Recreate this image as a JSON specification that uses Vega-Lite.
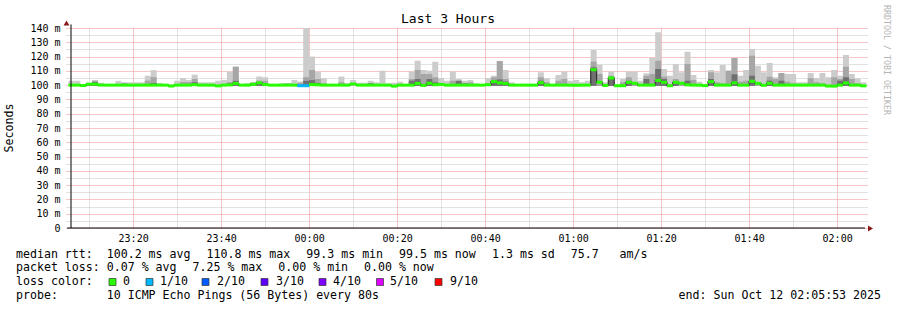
{
"$schema": "https://vega.github.io/schema/vega-lite/v6.json",
"width": 802, "height": 200,
"autosize": {"type": "none"},
"padding": {"left": 66, "top": 28, "right": 29, "bottom": 82},
"background": "white",
"config": {"view": {"stroke": null}, "font": "DejaVu Sans Mono", "text": {"font": "DejaVu Sans Mono", "fontSize": 11.6, "color": "#000", "align": "left", "baseline": "middle"}},
"data": {"values": [
{"t":"2025-10-11T23:06:00","hi":103.1,"med":100,"loss":0},
{"t":"2025-10-11T23:07:20","hi":103.1,"med":100,"loss":0},
{"t":"2025-10-11T23:08:40","hi":100.6,"med":99.7,"loss":0},
{"t":"2025-10-11T23:10:00","hi":101.6,"dk":101.2,"med":100.7,"loss":0},
{"t":"2025-10-11T23:11:20","hi":103.3,"mid":103.2,"dk":102.2,"med":100.7,"loss":0},
{"t":"2025-10-11T23:12:40","hi":101.6,"med":100.1,"loss":0},
{"t":"2025-10-11T23:14:00","hi":100.5,"med":100,"loss":0},
{"t":"2025-10-11T23:15:20","hi":100.5,"med":100,"loss":0},
{"t":"2025-10-11T23:16:40","hi":103.0,"med":100,"loss":0},
{"t":"2025-10-11T23:18:00","hi":102.0,"mid":101.5,"med":100,"loss":0},
{"t":"2025-10-11T23:19:20","hi":102.0,"med":100,"loss":0},
{"t":"2025-10-11T23:20:40","hi":102.0,"med":100,"loss":0},
{"t":"2025-10-11T23:22:00","hi":102.0,"med":100,"loss":0},
{"t":"2025-10-11T23:23:20","hi":106.6,"mid":103.2,"med":100,"loss":0},
{"t":"2025-10-11T23:24:40","hi":110.5,"mid":105.6,"dk":101.5,"med":100,"loss":0},
{"t":"2025-10-11T23:26:00","hi":101.5,"med":100,"loss":0},
{"t":"2025-10-11T23:27:20","hi":100.8,"med":100,"loss":0},
{"t":"2025-10-11T23:28:40","hi":100.5,"med":99.4,"loss":0},
{"t":"2025-10-11T23:30:00","hi":103.1,"med":100,"loss":0},
{"t":"2025-10-11T23:31:20","hi":105.0,"mid":102.2,"med":100,"loss":0},
{"t":"2025-10-11T23:32:40","hi":103.6,"mid":102.2,"med":100,"loss":0},
{"t":"2025-10-11T23:34:00","hi":107.3,"mid":104.3,"dk":102,"med":100.3,"loss":0},
{"t":"2025-10-11T23:35:20","hi":102,"med":100,"loss":0},
{"t":"2025-10-11T23:36:40","hi":102,"med":100,"loss":0},
{"t":"2025-10-11T23:38:00","hi":102,"med":100,"loss":0},
{"t":"2025-10-11T23:39:20","hi":103.1,"med":99.5,"loss":0},
{"t":"2025-10-11T23:40:40","hi":103.6,"med":100,"loss":0},
{"t":"2025-10-11T23:42:00","hi":109.4,"mid":102,"dk":101.3,"med":100.2,"loss":0},
{"t":"2025-10-11T23:43:20","hi":112.9,"mid":112.9,"dk":103,"med":101.2,"loss":0},
{"t":"2025-10-11T23:44:40","hi":100.8,"med":100,"loss":0},
{"t":"2025-10-11T23:46:00","hi":101.3,"med":100,"loss":0},
{"t":"2025-10-11T23:47:20","hi":102,"dk":101.6,"med":100.6,"loss":0},
{"t":"2025-10-11T23:48:40","hi":106,"mid":103.2,"dk":102,"med":101.6,"loss":0},
{"t":"2025-10-11T23:50:00","hi":105.5,"mid":103,"dk":101.5,"med":100.4,"loss":0},
{"t":"2025-10-11T23:51:20","hi":100.8,"med":100,"loss":0},
{"t":"2025-10-11T23:52:40","hi":100.8,"med":100,"loss":0},
{"t":"2025-10-11T23:54:00","hi":100.8,"dk":101,"med":100,"loss":0},
{"t":"2025-10-11T23:55:20","hi":101.3,"mid":101.3,"med":100,"loss":0},
{"t":"2025-10-11T23:56:40","hi":103.6,"med":100,"loss":0},
{"t":"2025-10-11T23:58:00","hi":102.5,"mid":101.7,"med":99.6,"loss":1},
{"t":"2025-10-11T23:59:20","hi":140,"mid":105.6,"dk":103,"med":99.6,"loss":1},
{"t":"2025-10-12T00:00:40","hi":120,"mid":110.6,"dk":103.5,"med":100.4,"loss":0},
{"t":"2025-10-12T00:02:00","hi":109.4,"mid":104.3,"dk":101.5,"med":100.2,"loss":0},
{"t":"2025-10-12T00:03:20","hi":104.8,"mid":101.3,"med":100,"loss":0},
{"t":"2025-10-12T00:04:40","hi":100.3,"med":100,"loss":0},
{"t":"2025-10-12T00:06:00","hi":100.8,"med":100,"loss":0},
{"t":"2025-10-12T00:07:20","hi":106,"mid":102,"med":100,"loss":0},
{"t":"2025-10-12T00:08:40","hi":101.3,"med":100,"loss":0},
{"t":"2025-10-12T00:10:00","hi":103.6,"med":100.8,"loss":0},
{"t":"2025-10-12T00:11:20","hi":101.7,"med":100,"loss":0},
{"t":"2025-10-12T00:12:40","hi":101.7,"med":100,"loss":0},
{"t":"2025-10-12T00:14:00","hi":103.1,"dk":101.3,"med":100,"loss":0},
{"t":"2025-10-12T00:15:20","hi":102,"med":100,"loss":0},
{"t":"2025-10-12T00:16:40","hi":110.1,"med":100,"loss":0},
{"t":"2025-10-12T00:18:00","hi":101.3,"med":100,"loss":0},
{"t":"2025-10-12T00:19:20","hi":101.7,"med":99.3,"loss":0},
{"t":"2025-10-12T00:20:40","hi":102.4,"med":100,"loss":0},
{"t":"2025-10-12T00:22:00","hi":100.8,"med":100,"loss":0},
{"t":"2025-10-12T00:23:20","hi":109.4,"mid":104.3,"dk":103.1,"med":100,"loss":0},
{"t":"2025-10-12T00:24:40","hi":117.1,"mid":110.6,"dk":104.3,"med":101.2,"loss":0},
{"t":"2025-10-12T00:26:00","hi":110.6,"mid":107.8,"med":99.8,"loss":0},
{"t":"2025-10-12T00:27:20","hi":110.1,"mid":107.8,"dk":104.3,"med":101.3,"loss":0},
{"t":"2025-10-12T00:28:40","hi":116.4,"mid":105.5,"dk":102,"med":100.3,"loss":0},
{"t":"2025-10-12T00:30:00","hi":105,"med":100.5,"loss":0},
{"t":"2025-10-12T00:31:20","hi":103.1,"med":100,"loss":0},
{"t":"2025-10-12T00:32:40","hi":109.4,"mid":103.1,"med":100,"loss":0},
{"t":"2025-10-12T00:34:00","hi":104.3,"dk":103.1,"med":100,"loss":0},
{"t":"2025-10-12T00:35:20","hi":103.1,"dk":101.3,"med":100,"loss":0},
{"t":"2025-10-12T00:36:40","hi":103.6,"mid":102,"med":100,"loss":0},
{"t":"2025-10-12T00:38:00","hi":101.3,"med":100,"loss":0},
{"t":"2025-10-12T00:39:20","hi":100.2,"med":100,"loss":0},
{"t":"2025-10-12T00:40:40","hi":105,"mid":101.3,"med":100.3,"loss":0},
{"t":"2025-10-12T00:42:00","hi":106.6,"mid":105.5,"dk":103.3,"med":102.5,"loss":0},
{"t":"2025-10-12T00:43:20","hi":116.9,"mid":116.9,"dk":104,"med":101.6,"loss":0},
{"t":"2025-10-12T00:44:40","hi":110.6,"mid":104.3,"dk":102.5,"med":101.1,"loss":0},
{"t":"2025-10-12T00:46:00","hi":102,"med":100,"loss":0},
{"t":"2025-10-12T00:47:20","hi":100.8,"dk":100.8,"med":100,"loss":0},
{"t":"2025-10-12T00:48:40","hi":100.8,"med":100,"loss":0},
{"t":"2025-10-12T00:50:00","hi":100.2,"med":100,"loss":0},
{"t":"2025-10-12T00:51:20","hi":100.2,"med":100,"loss":0},
{"t":"2025-10-12T00:52:40","hi":109,"mid":105.5,"dk":103.1,"med":101.7,"loss":0},
{"t":"2025-10-12T00:54:00","hi":104.8,"mid":102,"med":100,"loss":0},
{"t":"2025-10-12T00:55:20","hi":100.2,"med":100,"loss":0},
{"t":"2025-10-12T00:56:40","hi":107.1,"mid":103.1,"med":100,"loss":0},
{"t":"2025-10-12T00:58:00","hi":109.4,"mid":104.3,"med":100,"loss":0},
{"t":"2025-10-12T00:59:20","hi":103.1,"med":100,"loss":0},
{"t":"2025-10-12T01:00:40","hi":103.6,"med":100,"loss":0},
{"t":"2025-10-12T01:02:00","hi":102,"med":100,"loss":0},
{"t":"2025-10-12T01:03:20","hi":103.1,"med":100,"loss":0},
{"t":"2025-10-12T01:04:40","hi":124.6,"mid":116.4,"dk":112.5,"med":110.8,"loss":0},
{"t":"2025-10-12T01:06:00","hi":114.3,"mid":107.8,"med":102,"loss":0},
{"t":"2025-10-12T01:07:20","hi":102,"med":99.8,"loss":0},
{"t":"2025-10-12T01:08:40","hi":109.4,"mid":106.6,"dk":105.5,"med":105,"loss":0},
{"t":"2025-10-12T01:10:00","hi":100.8,"med":99.6,"loss":0},
{"t":"2025-10-12T01:11:20","hi":104.3,"mid":102,"med":99.6,"loss":0},
{"t":"2025-10-12T01:12:40","hi":109.4,"mid":105.5,"dk":103,"med":102,"loss":0},
{"t":"2025-10-12T01:14:00","hi":109.4,"mid":102,"med":101.3,"loss":0},
{"t":"2025-10-12T01:15:20","hi":103.1,"med":100,"loss":0},
{"t":"2025-10-12T01:16:40","hi":108.3,"mid":106.6,"dk":104.3,"med":100,"loss":0},
{"t":"2025-10-12T01:18:00","hi":119,"mid":107.8,"med":100,"loss":0},
{"t":"2025-10-12T01:19:20","hi":137,"mid":117.1,"dk":111.3,"med":103.3,"loss":0},
{"t":"2025-10-12T01:20:40","hi":111.3,"mid":105.9,"dk":104.3,"med":102,"loss":0},
{"t":"2025-10-12T01:22:00","hi":106.6,"med":99.6,"loss":0},
{"t":"2025-10-12T01:23:20","hi":114.8,"mid":104.3,"dk":102.4,"med":102,"loss":0},
{"t":"2025-10-12T01:24:40","hi":109,"mid":102,"med":101.3,"loss":0},
{"t":"2025-10-12T01:26:00","hi":123.4,"mid":114.8,"dk":103.1,"med":100.2,"loss":0},
{"t":"2025-10-12T01:27:20","hi":107.1,"mid":103.6,"med":100,"loss":0},
{"t":"2025-10-12T01:28:40","hi":102.4,"med":100,"loss":0},
{"t":"2025-10-12T01:30:00","hi":100.2,"med":99.7,"loss":0},
{"t":"2025-10-12T01:31:20","hi":110.6,"mid":109,"dk":104.3,"med":102.4,"loss":0},
{"t":"2025-10-12T01:32:40","hi":109,"mid":102,"med":100,"loss":0},
{"t":"2025-10-12T01:34:00","hi":114.1,"mid":101.3,"med":100,"loss":0},
{"t":"2025-10-12T01:35:20","hi":110.1,"mid":110.1,"med":100,"loss":0},
{"t":"2025-10-12T01:36:40","hi":119,"mid":119,"dk":107.6,"med":101.6,"loss":0},
{"t":"2025-10-12T01:38:00","hi":106.6,"mid":102.4,"med":100,"loss":0},
{"t":"2025-10-12T01:39:20","hi":110.6,"mid":103.1,"med":100,"loss":0},
{"t":"2025-10-12T01:40:40","hi":125.3,"mid":120.6,"dk":106.6,"med":102.7,"loss":0},
{"t":"2025-10-12T01:42:00","hi":113.6,"mid":102,"med":101.2,"loss":0},
{"t":"2025-10-12T01:43:20","hi":109,"med":99.9,"loss":0},
{"t":"2025-10-12T01:44:40","hi":115.5,"mid":105.9,"dk":103.1,"med":101.3,"loss":0},
{"t":"2025-10-12T01:46:00","hi":105.5,"mid":104.3,"med":100,"loss":0},
{"t":"2025-10-12T01:47:20","hi":108.5,"mid":108.5,"dk":103.1,"med":100,"loss":0},
{"t":"2025-10-12T01:48:40","hi":107.8,"mid":102.4,"med":100,"loss":0},
{"t":"2025-10-12T01:50:00","hi":107.8,"mid":101.3,"med":100,"loss":0},
{"t":"2025-10-12T01:51:20","hi":102,"med":100,"loss":0},
{"t":"2025-10-12T01:52:40","hi":102,"med":100,"loss":0},
{"t":"2025-10-12T01:54:00","hi":108.5,"mid":104.8,"med":100,"loss":0},
{"t":"2025-10-12T01:55:20","hi":105,"mid":102,"med":100,"loss":0},
{"t":"2025-10-12T01:56:40","hi":108.5,"mid":101.3,"med":100,"loss":0},
{"t":"2025-10-12T01:58:00","hi":105.5,"med":99.4,"loss":0},
{"t":"2025-10-12T01:59:20","hi":110.6,"mid":105.5,"med":99.3,"loss":0},
{"t":"2025-10-12T02:00:40","hi":106.6,"mid":104.3,"dk":103.1,"med":100,"loss":0},
{"t":"2025-10-12T02:02:00","hi":121.1,"mid":112.9,"dk":105.5,"med":101.5,"loss":0},
{"t":"2025-10-12T02:03:20","hi":107.8,"mid":104.3,"med":100,"loss":0},
{"t":"2025-10-12T02:04:40","hi":104.8,"mid":101.3,"med":100,"loss":0},
{"t":"2025-10-12T02:06:00","hi":102,"med":99.5,"loss":0}
]},
"layer": [
{"mark": {"type": "bar", "width": 6, "color": "#cccccc", "clip": true},
 "encoding": {
  "x": {"field": "t", "type": "temporal",
   "scale": {"domain": [{"year":2025,"month":10,"date":11,"hours":23,"minutes":5,"seconds":53},{"year":2025,"month":10,"date":12,"hours":2,"minutes":5,"seconds":53}], "nice": false},
   "axis": {"title": null, "values": [
     {"year":2025,"month":10,"date":11,"hours":23,"minutes":10},{"year":2025,"month":10,"date":11,"hours":23,"minutes":15},
     {"year":2025,"month":10,"date":11,"hours":23,"minutes":20},{"year":2025,"month":10,"date":11,"hours":23,"minutes":25},
     {"year":2025,"month":10,"date":11,"hours":23,"minutes":30},{"year":2025,"month":10,"date":11,"hours":23,"minutes":35},
     {"year":2025,"month":10,"date":11,"hours":23,"minutes":40},{"year":2025,"month":10,"date":11,"hours":23,"minutes":45},
     {"year":2025,"month":10,"date":11,"hours":23,"minutes":50},{"year":2025,"month":10,"date":11,"hours":23,"minutes":55},
     {"year":2025,"month":10,"date":12,"hours":0,"minutes":0},{"year":2025,"month":10,"date":12,"hours":0,"minutes":5},
     {"year":2025,"month":10,"date":12,"hours":0,"minutes":10},{"year":2025,"month":10,"date":12,"hours":0,"minutes":15},
     {"year":2025,"month":10,"date":12,"hours":0,"minutes":20},{"year":2025,"month":10,"date":12,"hours":0,"minutes":25},
     {"year":2025,"month":10,"date":12,"hours":0,"minutes":30},{"year":2025,"month":10,"date":12,"hours":0,"minutes":35},
     {"year":2025,"month":10,"date":12,"hours":0,"minutes":40},{"year":2025,"month":10,"date":12,"hours":0,"minutes":45},
     {"year":2025,"month":10,"date":12,"hours":0,"minutes":50},{"year":2025,"month":10,"date":12,"hours":0,"minutes":55},
     {"year":2025,"month":10,"date":12,"hours":1,"minutes":0},{"year":2025,"month":10,"date":12,"hours":1,"minutes":5},
     {"year":2025,"month":10,"date":12,"hours":1,"minutes":10},{"year":2025,"month":10,"date":12,"hours":1,"minutes":15},
     {"year":2025,"month":10,"date":12,"hours":1,"minutes":20},{"year":2025,"month":10,"date":12,"hours":1,"minutes":25},
     {"year":2025,"month":10,"date":12,"hours":1,"minutes":30},{"year":2025,"month":10,"date":12,"hours":1,"minutes":35},
     {"year":2025,"month":10,"date":12,"hours":1,"minutes":40},{"year":2025,"month":10,"date":12,"hours":1,"minutes":45},
     {"year":2025,"month":10,"date":12,"hours":1,"minutes":50},{"year":2025,"month":10,"date":12,"hours":1,"minutes":55},
     {"year":2025,"month":10,"date":12,"hours":2,"minutes":0},{"year":2025,"month":10,"date":12,"hours":2,"minutes":5}],
    "labelExpr": "minutes(datum.value) % 20 === 0 ? timeFormat(datum.value, '%H:%M') : ''",
    "grid": true, "gridDash": [1, 1],
    "gridColor": {"condition": {"test": "minutes(datum.value) % 20 === 0", "value": "#f08c8c"}, "value": "#c4c4c4"},
    "domain": false, "ticks": false, "labelPadding": 5,
    "labelFont": "DejaVu Sans Mono", "labelFontSize": 10, "labelColor": "#000", "labelOverlap": false, "labelFlush": false, "labelBound": false}},
  "y": {"field": "hi", "type": "quantitative",
   "scale": {"domain": [0, 140], "nice": false, "zero": false},
   "axis": {"title": null, "values": [0,5,10,15,20,25,30,35,40,45,50,55,60,65,70,75,80,85,90,95,100,105,110,115,120,125,130,135,140], "labelExpr": "datum.value % 10 !== 0 ? '' : (datum.value === 0 ? '0' : datum.value + ' m')", "grid": true, "gridDash": [1, 1], "gridColor": {"condition": {"test": "datum.value % 10 === 0", "value": "#f08c8c"}, "value": "#c4c4c4"}, "domain": false, "ticks": false, "labelPadding": 6, "labelFont": "DejaVu Sans Mono", "labelFontSize": 10, "labelColor": "#000", "labelOverlap": false}},
  "y2": {"datum": 99.5}
 }},
{"mark": {"type": "bar", "width": 6, "color": "#a6a6a6", "clip": true},
 "encoding": {"x": {"field": "t", "type": "temporal"},
  "y": {"field": "mid", "type": "quantitative", "axis": {"title": null, "values": [0,5,10,15,20,25,30,35,40,45,50,55,60,65,70,75,80,85,90,95,100,105,110,115,120,125,130,135,140], "labelExpr": "datum.value % 10 !== 0 ? '' : (datum.value === 0 ? '0' : datum.value + ' m')", "grid": true, "gridDash": [1, 1], "gridColor": {"condition": {"test": "datum.value % 10 === 0", "value": "#f08c8c"}, "value": "#c4c4c4"}, "domain": false, "ticks": false, "labelPadding": 6, "labelFont": "DejaVu Sans Mono", "labelFontSize": 10, "labelColor": "#000", "labelOverlap": false}},
  "y2": {"datum": 99.5}}},
{"mark": {"type": "bar", "width": 6, "color": "#707070", "clip": true},
 "encoding": {"x": {"field": "t", "type": "temporal"},
  "y": {"field": "dk", "type": "quantitative", "axis": {"title": null, "values": [0,5,10,15,20,25,30,35,40,45,50,55,60,65,70,75,80,85,90,95,100,105,110,115,120,125,130,135,140], "labelExpr": "datum.value % 10 !== 0 ? '' : (datum.value === 0 ? '0' : datum.value + ' m')", "grid": true, "gridDash": [1, 1], "gridColor": {"condition": {"test": "datum.value % 10 === 0", "value": "#f08c8c"}, "value": "#c4c4c4"}, "domain": false, "ticks": false, "labelPadding": 6, "labelFont": "DejaVu Sans Mono", "labelFontSize": 10, "labelColor": "#000", "labelOverlap": false}},
  "y2": {"datum": 99.5}}},
{"mark": {"type": "line", "interpolate": "step", "color": "#333333", "strokeWidth": 1.2, "clip": true},
 "encoding": {"x": {"field": "t", "type": "temporal"},
  "y": {"field": "med", "type": "quantitative", "axis": {"title": null, "values": [0,5,10,15,20,25,30,35,40,45,50,55,60,65,70,75,80,85,90,95,100,105,110,115,120,125,130,135,140], "labelExpr": "datum.value % 10 !== 0 ? '' : (datum.value === 0 ? '0' : datum.value + ' m')", "grid": true, "gridDash": [1, 1], "gridColor": {"condition": {"test": "datum.value % 10 === 0", "value": "#f08c8c"}, "value": "#c4c4c4"}, "domain": false, "ticks": false, "labelPadding": 6, "labelFont": "DejaVu Sans Mono", "labelFontSize": 10, "labelColor": "#000", "labelOverlap": false}}}},
{"mark": {"type": "tick", "orient": "horizontal", "size": 6, "thickness": 3, "opacity": 1, "clip": true},
 "encoding": {"x": {"field": "t", "type": "temporal"},
  "y": {"field": "med", "type": "quantitative", "axis": {"title": null, "values": [0,5,10,15,20,25,30,35,40,45,50,55,60,65,70,75,80,85,90,95,100,105,110,115,120,125,130,135,140], "labelExpr": "datum.value % 10 !== 0 ? '' : (datum.value === 0 ? '0' : datum.value + ' m')", "grid": true, "gridDash": [1, 1], "gridColor": {"condition": {"test": "datum.value % 10 === 0", "value": "#f08c8c"}, "value": "#c4c4c4"}, "domain": false, "ticks": false, "labelPadding": 6, "labelFont": "DejaVu Sans Mono", "labelFontSize": 10, "labelColor": "#000", "labelOverlap": false}},
  "color": {"field": "loss", "type": "nominal", "legend": null,
   "scale": {"domain": [0,1,2,3,4,5,9], "range": ["#26ff00","#00b8ff","#0059ff","#5e00ff","#7e00ff","#dd00ff","#ff0000"]}}}},
{"data": {"values": [{}]},
 "layer": [
  {"mark": {"type": "rule", "color": "#000", "strokeWidth": 1},
   "encoding": {"x": {"datum": {"year":2025,"month":10,"date":11,"hours":23,"minutes":5,"seconds":53}, "type": "temporal"},
    "y": {"datum": 0, "type": "quantitative", "axis": {"title": null, "values": [0,5,10,15,20,25,30,35,40,45,50,55,60,65,70,75,80,85,90,95,100,105,110,115,120,125,130,135,140], "labelExpr": "datum.value % 10 !== 0 ? '' : (datum.value === 0 ? '0' : datum.value + ' m')", "grid": true, "gridDash": [1, 1], "gridColor": {"condition": {"test": "datum.value % 10 === 0", "value": "#f08c8c"}, "value": "#c4c4c4"}, "domain": false, "ticks": false, "labelPadding": 6, "labelFont": "DejaVu Sans Mono", "labelFontSize": 10, "labelColor": "#000", "labelOverlap": false}},
    "y2": {"datum": 142.5}}},
  {"mark": {"type": "rule", "color": "#000", "strokeWidth": 1},
   "encoding": {"x": {"datum": {"year":2025,"month":10,"date":11,"hours":23,"minutes":5,"seconds":0}, "type": "temporal"},
    "x2": {"datum": {"year":2025,"month":10,"date":12,"hours":2,"minutes":6,"seconds":20}},
    "y": {"datum": 0, "type": "quantitative", "axis": {"title": null, "values": [0,5,10,15,20,25,30,35,40,45,50,55,60,65,70,75,80,85,90,95,100,105,110,115,120,125,130,135,140], "labelExpr": "datum.value % 10 !== 0 ? '' : (datum.value === 0 ? '0' : datum.value + ' m')", "grid": true, "gridDash": [1, 1], "gridColor": {"condition": {"test": "datum.value % 10 === 0", "value": "#f08c8c"}, "value": "#c4c4c4"}, "domain": false, "ticks": false, "labelPadding": 6, "labelFont": "DejaVu Sans Mono", "labelFontSize": 10, "labelColor": "#000", "labelOverlap": false}}}},
  {"mark": {"type": "point", "shape": "triangle-up", "filled": true, "size": 34, "color": "#8b1a1a", "opacity": 1, "x": 0.5, "y": -5}},
  {"mark": {"type": "point", "shape": "triangle-right", "filled": true, "size": 34, "color": "#8b1a1a", "opacity": 1, "x": 804.5, "y": 200.5}},
  {"mark": {"type": "text", "text": "Last 3 Hours", "x": 382, "y": -9, "align": "center", "fontSize": 13}},
  {"mark": {"type": "text", "text": "Seconds", "x": -56, "y": 100, "align": "center", "angle": 270, "fontSize": 11.6}},
  {"mark": {"type": "text", "text": "RRDTOOL / TOBI OETIKER", "x": 820, "y": 32, "align": "center", "angle": 90, "fontSize": 8.3, "color": "#b4b4b4"}},
  {"mark": {"type": "text", "text": "median rtt:\u00a0\u00a0100.2 ms avg", "x": -50, "y": 227}},
  {"mark": {"type": "text", "text": "110.8 ms max", "x": 140.5, "y": 227}},
  {"mark": {"type": "text", "text": "99.3 ms min", "x": 240.3, "y": 227}},
  {"mark": {"type": "text", "text": "99.5 ms now", "x": 333, "y": 227}},
  {"mark": {"type": "text", "text": "1.3 ms sd", "x": 426, "y": 227}},
  {"mark": {"type": "text", "text": "75.7\u00a0\u00a0\u00a0am/s", "x": 504.7, "y": 227}},
  {"mark": {"type": "text", "text": "packet loss: 0.07 % avg", "x": -50, "y": 240}},
  {"mark": {"type": "text", "text": "7.25 % max", "x": 126.5, "y": 240}},
  {"mark": {"type": "text", "text": "0.00 % min", "x": 212.3, "y": 240}},
  {"mark": {"type": "text", "text": "0.00 % now", "x": 298, "y": 240}},
  {"mark": {"type": "text", "text": "loss color:", "x": -50, "y": 254}},
  {"mark": {"type": "point", "shape": "square", "filled": true, "size": 49, "x": 46.5, "y": 254, "fill": "#26ff00", "stroke": "#333", "strokeWidth": 0.7, "opacity": 1}},
  {"mark": {"type": "text", "text": "0", "x": 57, "y": 254}},
  {"mark": {"type": "point", "shape": "square", "filled": true, "size": 49, "x": 83.5, "y": 254, "fill": "#00b8ff", "stroke": "#333", "strokeWidth": 0.7, "opacity": 1}},
  {"mark": {"type": "text", "text": "1/10", "x": 94, "y": 254}},
  {"mark": {"type": "point", "shape": "square", "filled": true, "size": 49, "x": 139.5, "y": 254, "fill": "#0059ff", "stroke": "#333", "strokeWidth": 0.7, "opacity": 1}},
  {"mark": {"type": "text", "text": "2/10", "x": 151, "y": 254}},
  {"mark": {"type": "point", "shape": "square", "filled": true, "size": 49, "x": 198.5, "y": 254, "fill": "#5e00ff", "stroke": "#333", "strokeWidth": 0.7, "opacity": 1}},
  {"mark": {"type": "text", "text": "3/10", "x": 210, "y": 254}},
  {"mark": {"type": "point", "shape": "square", "filled": true, "size": 49, "x": 256.5, "y": 254, "fill": "#7e00ff", "stroke": "#333", "strokeWidth": 0.7, "opacity": 1}},
  {"mark": {"type": "text", "text": "4/10", "x": 267, "y": 254}},
  {"mark": {"type": "point", "shape": "square", "filled": true, "size": 49, "x": 314, "y": 254, "fill": "#dd00ff", "stroke": "#333", "strokeWidth": 0.7, "opacity": 1}},
  {"mark": {"type": "text", "text": "5/10", "x": 324, "y": 254}},
  {"mark": {"type": "point", "shape": "square", "filled": true, "size": 49, "x": 372.5, "y": 254, "fill": "#ff0000", "stroke": "#333", "strokeWidth": 0.7, "opacity": 1}},
  {"mark": {"type": "text", "text": "9/10", "x": 384, "y": 254}},
  {"mark": {"type": "text", "text": "probe:\u00a0\u00a0\u00a0\u00a0\u00a0\u00a0\u00a010 ICMP Echo Pings (56 Bytes) every 80s", "x": -50, "y": 268}},
  {"mark": {"type": "text", "text": "end: Sun Oct 12 02:05:53 2025", "x": 815, "y": 268, "align": "right"}}
 ]}
]
}
